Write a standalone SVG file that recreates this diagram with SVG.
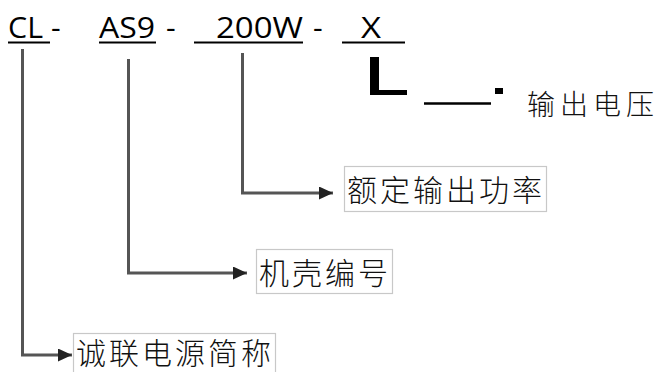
<svg xmlns="http://www.w3.org/2000/svg" width="662" height="372" viewBox="0 0 662 372">
<style>
.code{font-family:"Open Sans","Liberation Sans",sans-serif;font-size:30px;fill:#000}
.ul{stroke:#000;stroke-width:2.2;fill:none}
.conn{stroke:#555;stroke-width:3;fill:none}
.box{fill:#fff;stroke:#c8c8c8;stroke-width:1.2}
.lbl{font-family:"Noto Sans CJK SC","Noto Sans",sans-serif;font-size:30px;font-weight:300;letter-spacing:3px;fill:#111}
</style>
<defs>
<marker id="ah" markerUnits="userSpaceOnUse" markerWidth="16" markerHeight="14" refX="14" refY="6.5" orient="auto">
<path d="M0,0 L14,6.5 L0,13 Z" fill="#222"/>
</marker>
</defs>
<rect width="662" height="372" fill="#fff"/>
<g id="code">
<text class="code" x="8" y="38" textLength="35" lengthAdjust="spacingAndGlyphs">CL</text>
<text class="code" x="51" y="38">-</text>
<text class="code" x="99" y="38" textLength="56" lengthAdjust="spacingAndGlyphs">AS9</text>
<text class="code" x="166" y="38">-</text>
<text class="code" x="216" y="38" textLength="87" lengthAdjust="spacingAndGlyphs">200W</text>
<text class="code" x="313" y="38">-</text>
<text class="code" x="361" y="38" textLength="20" lengthAdjust="spacingAndGlyphs">X</text>
<path class="ul" d="M8,42.5H50 M99,42.5H156 M194,42.5H303 M342,42.5H405"/>
</g>
<g id="connectors">
<path class="conn" d="M22.5,49V355H72" marker-end="url(#ah)"/>
<path class="conn" d="M128.5,59V273H247" marker-end="url(#ah)"/>
<path class="conn" d="M242.5,53V193H333" marker-end="url(#ah)"/>
</g>
<g id="x-mark">
<path d="M370,57H379V90H407V95H370Z" fill="#000"/>
<path d="M424,103.5H491" stroke="#000" stroke-width="2.6"/>
<rect x="495" y="88" width="8" height="6" fill="#000"/>
</g>
<g id="node-voltage">
<text class="lbl" x="527" y="115" style="font-size:28px;letter-spacing:5px">输出电压</text>
</g>
<g id="node-power">
<rect class="box" x="344.5" y="166.5" width="202" height="45"/>
<text class="lbl" x="347" y="201">额定输出功率</text>
</g>
<g id="node-case">
<rect class="box" x="256.5" y="249.5" width="136" height="44"/>
<text class="lbl" x="259" y="284">机壳编号</text>
</g>
<g id="node-brand">
<rect class="box" x="73.5" y="333.5" width="202" height="45"/>
<text class="lbl" x="76" y="364">诚联电源简称</text>
</g>
</svg>
